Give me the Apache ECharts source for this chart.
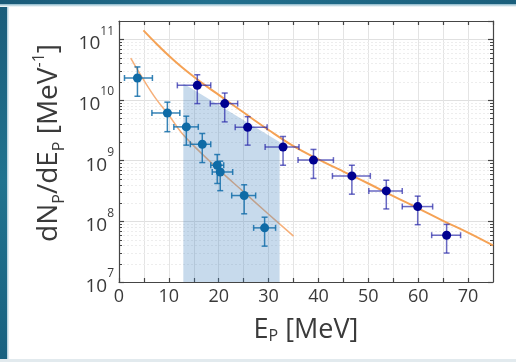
<!DOCTYPE html>
<html><head><meta charset="utf-8">
<script src="https://cdn.jsdelivr.net/npm/echarts@6/dist/echarts.min.js"></script>
<style>
html,body{margin:0;padding:0;background:#fff;}
#wrap{position:relative;width:516px;height:362px;overflow:hidden;background:#fff;}
#left{position:absolute;left:0;top:0;width:7px;height:362px;background:linear-gradient(180deg,#1a5c7a,#20738f 50%,#186180);}
#leftEdge{position:absolute;left:7px;top:0;width:2px;height:362px;background:linear-gradient(90deg,#a9cad8,#f0f6f9);}
#top{position:absolute;left:0;top:0;width:516px;height:4px;background:linear-gradient(90deg,#1a5a78,#22708e 40%,#1b5f7c);}
#topEdge{position:absolute;left:0;top:4px;width:516px;height:3px;background:linear-gradient(180deg,#86b4c7,#ffffff);}
#bottom{position:absolute;left:0;top:359px;width:516px;height:3px;background:#e2eaee;}
#chart{position:absolute;left:0;top:0;width:516px;height:362px;}
</style></head>
<body><div id="wrap"><div id="left"></div><div id="leftEdge"></div><div id="top"></div><div id="topEdge"></div><div id="bottom"></div><div id="chart"></div></div>
<script>
// Light-blue series (lower spectrum)
const lowE    = [3.7, 9.7, 13.5, 16.7, 19.7, 20.3, 25.1, 29.2];
const lowN    = [2.3e10, 6.1e9, 3.6e9, 1.86e9, 8.4e8, 6.5e8, 2.66e8, 7.8e7];
const lowEmin = [1.1, 6.6, 11.0, 14.3, 18.4, 18.7, 22.6, 27.0];
const lowEmax = [6.7, 12.2, 15.9, 18.4, 21.0, 22.8, 27.4, 31.4];
const lowNmin = [1.15e10, 3.0e9, 1.8e9, 9.3e8, 4.2e8, 3.2e8, 1.33e8, 3.9e7];
const lowNmax = [3.5e10, 9.2e9, 5.4e9, 2.8e9, 1.26e9, 9.8e8, 4.0e8, 1.17e8];
// Navy series (upper spectrum)
const highE    = [15.7, 21.2, 25.8, 32.9, 39.0, 46.7, 53.6, 59.9, 65.7];
const highN    = [1.74e10, 8.7e9, 3.55e9, 1.68e9, 1.02e9, 5.6e8, 3.17e8, 1.75e8, 5.9e7];
const highEmin = [11.7, 18.3, 23.3, 29.3, 35.9, 42.8, 50.1, 56.8, 62.7];
const highEmax = [18.4, 23.8, 29.7, 36.1, 43.0, 50.4, 56.8, 62.9, 68.5];
const highNmin = [8.7e9, 4.35e9, 1.8e9, 8.4e8, 5.1e8, 2.8e8, 1.6e8, 8.8e7, 3.0e7];
const highNmax = [2.6e10, 1.3e10, 5.3e9, 2.5e9, 1.53e9, 8.4e8, 4.75e8, 2.6e8, 8.9e7];
// Fit curves (orange)
const fitHighE = [4.9, 7.5, 10, 12.5, 15, 17.5, 20, 25, 30, 35, 40, 45, 50, 55, 60, 65, 70, 75];
const fitHighN = [1.4e11, 8.43e10, 5.35e10, 3.52e10, 2.41e10, 1.69e10, 1.21e10, 6.2e9, 3.2e9, 1.73e9, 1.05e9, 6.6e8, 4.2e8, 2.6e8, 1.64e8, 1.02e8, 6.5e7, 4.0e7];
const fitLowE = [2.35, 5, 7.5, 10, 12.5, 15, 20, 25, 30, 35];
const fitLowN = [4.9e10, 2.1e10, 1.02e10, 5.6e9, 2.9e9, 1.75e9, 7.1e8, 3.05e8, 1.31e8, 5.7e7];
// Shaded window
const shadeE = [12.9, 32.2];
const shadeN = [1.86e10, 2.03e9];
// Axis ticks
const xMin = 0, xMax = 75, xStep = 5;
const yMin = 1e7, yMax = 2e11;
const yMinorTicks = [2e7,3e7,4e7,5e7,6e7,7e7,8e7,9e7,2e8,3e8,4e8,5e8,6e8,7e8,8e8,9e8,2e9,3e9,4e9,5e9,6e9,7e9,8e9,9e9,2e10,3e10,4e10,5e10,6e10,7e10,8e10,9e10];

const FONT = 'Open Sans';
const AX = '#454545';
const chart = echarts.init(document.getElementById('chart'), null, {renderer:'canvas'});

function errRender(color){
  return function(params, api){
    const x=api.value(0), y=api.value(1), xl=api.value(2), xh=api.value(3), yl=api.value(4), yh=api.value(5);
    const a=api.coord([xl,y]), b=api.coord([xh,y]), c=api.coord([x,yl]), d=api.coord([x,yh]);
    const cap=3, st={stroke:color, lineWidth:1.5};
    return {type:'group', children:[
      {type:'line', shape:{x1:a[0],y1:a[1],x2:b[0],y2:b[1]}, style:st},
      {type:'line', shape:{x1:c[0],y1:c[1],x2:d[0],y2:d[1]}, style:st},
      {type:'line', shape:{x1:a[0],y1:a[1]-cap,x2:a[0],y2:a[1]+cap}, style:st},
      {type:'line', shape:{x1:b[0],y1:b[1]-cap,x2:b[0],y2:b[1]+cap}, style:st},
      {type:'line', shape:{x1:c[0]-cap,y1:c[1],x2:c[0]+cap,y2:c[1]}, style:st},
      {type:'line', shape:{x1:d[0]-cap,y1:d[1],x2:d[0]+cap,y2:d[1]}, style:st}
    ]};
  };
}
function zip(...arrs){ return arrs[0].map((_,i)=>arrs.map(a=>a[i])); }

const xAxisCommon = {
  type:'value', min:xMin, max:xMax, interval:xStep,
  axisLine:{show:true, onZero:false, lineStyle:{color:AX, width:1.2}},
  axisTick:{show:true, inside:true, length:4, lineStyle:{color:AX, width:1.2}},
};
const yAxisCommon = {
  type:'log', logBase:10, min:yMin, max:yMax,
  axisLine:{show:true, onZero:false, lineStyle:{color:AX, width:1.2}},
  axisTick:{show:true, inside:true, length:5, lineStyle:{color:AX, width:1.2}},
};

const option = {
  animation:false,
  backgroundColor:'transparent',
  grid:{left:119, right:23, top:21, bottom:80, containLabel:false},
  xAxis:[
    Object.assign({}, xAxisCommon, {
      position:'bottom',
      splitLine:{show:true, lineStyle:{color:'#e4e4e4', width:1}},
      axisLabel:{show:true, margin:6, color:'#3a3a3a', fontFamily:FONT, fontSize:18,
        showMaxLabel:false,
        formatter:function(v){ return (Math.round(v)%10===0) ? String(v) : ''; }},
      name:'{t|E}{s|P}{t| [MeV]}', nameLocation:'middle', nameGap:30,
      nameTextStyle:{rich:{
        t:{fontFamily:FONT, fontSize:27, color:'#3a3a3a', lineHeight:32, verticalAlign:'bottom'},
        s:{fontFamily:FONT, fontSize:16, color:'#3a3a3a', lineHeight:23, verticalAlign:'bottom'}
      }}
    }),
    Object.assign({}, xAxisCommon, {position:'top', axisLabel:{show:false}, splitLine:{show:false}})
  ],
  yAxis:[
    Object.assign({}, yAxisCommon, {
      position:'left',
      splitLine:{show:true, lineStyle:{color:'#e0e0e0', width:1}},
      axisLabel:{show:true, margin:5, showMaxLabel:false,
        formatter:function(v){
          const e=Math.log10(v);
          if (Math.abs(e-Math.round(e))>1e-6) return '';
          return '{b|10}{s|'+Math.round(e)+'}';
        },
        rich:{
          b:{fontFamily:FONT, fontSize:19, color:'#3a3a3a', lineHeight:28, verticalAlign:'bottom'},
          s:{fontFamily:FONT, fontSize:12, color:'#3a3a3a', lineHeight:12, verticalAlign:'top'}
        }},
      name:'{t|dN}{s|P}{t|/dE}{s|P}{t| [MeV}{u|-1}{t|]}', nameLocation:'middle', nameGap:52, nameRotate:90,
      nameTextStyle:{padding:[0,0,0,17], rich:{
        t:{fontFamily:FONT, fontSize:28, color:'#3a3a3a', lineHeight:36, verticalAlign:'middle'},
        s:{fontFamily:FONT, fontSize:16, color:'#3a3a3a', lineHeight:16, verticalAlign:'bottom'},
        u:{fontFamily:FONT, fontSize:16, color:'#3a3a3a', lineHeight:16, verticalAlign:'top'}
      }}
    }),
    Object.assign({}, yAxisCommon, {position:'right', axisLabel:{show:false}, splitLine:{show:false}})
  ],
  series:[
    { // minor log grid + minor ticks
      type:'custom', xAxisIndex:0, yAxisIndex:0, silent:true, z:1,
      data: yMinorTicks.map(v=>[xMin, v]),
      encode:{x:0, y:1},
      renderItem:function(params, api){
        const p=api.coord([api.value(0), api.value(1)]);
        const cs=params.coordSys;
        const y=Math.round(p[1])+0.5;
        return {type:'group', children:[
          {type:'line', shape:{x1:cs.x, y1:y, x2:cs.x+cs.width, y2:y}, style:{stroke:'#ededed', lineWidth:1, lineDash:[2,2]}},
          {type:'line', shape:{x1:cs.x, y1:y, x2:cs.x+3, y2:y}, style:{stroke:AX, lineWidth:1}},
          {type:'line', shape:{x1:cs.x+cs.width-3, y1:y, x2:cs.x+cs.width, y2:y}, style:{stroke:AX, lineWidth:1}}
        ]};
      }
    },
    {type:'line', name:'fitHigh', data:zip(fitHighE, fitHighN), smooth:0.4, showSymbol:false, z:3,
      lineStyle:{color:'#f5a255', width:2}},
    {type:'line', name:'fitLow', data:zip(fitLowE, fitLowN), smooth:0.4, showSymbol:false, z:3,
      lineStyle:{color:'#f6b07a', width:1.5}},
    {type:'line', name:'window', data:zip(shadeE, shadeN), showSymbol:false, z:4,
      lineStyle:{width:0, opacity:0}, areaStyle:{color:'rgba(64,128,190,0.42)', origin:'start'}},
    {type:'custom', name:'lowErr', data:zip(lowE, lowN, lowEmin, lowEmax, lowNmin, lowNmax), encode:{x:0,y:1}, z:5,
      renderItem:errRender('rgba(20,110,170,0.85)')},
    {type:'custom', name:'highErr', data:zip(highE, highN, highEmin, highEmax, highNmin, highNmax), encode:{x:0,y:1}, z:5,
      renderItem:errRender('rgba(40,40,170,0.7)')},
    {type:'scatter', name:'low', data:zip(lowE, lowN), symbolSize:9, z:6, itemStyle:{color:'#0f6ba6', opacity:1}},
    {type:'scatter', name:'high', data:zip(highE, highN), symbolSize:9, z:6, itemStyle:{color:'#000090', opacity:1}}
  ]
};
chart.setOption(option);
</script></body></html>
